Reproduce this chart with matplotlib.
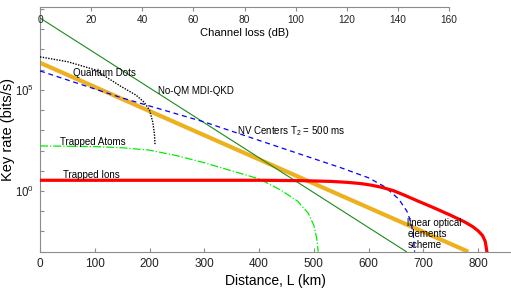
import matplotlib
matplotlib.use("Agg")
import matplotlib.pyplot as plt
import numpy as np

plt.rcParams['font.family'] = ['Liberation Sans', 'DejaVu Sans']
plt.rcParams['mathtext.fontset'] = 'custom'
plt.rcParams['mathtext.rm'] = 'Liberation Sans'
plt.rcParams['mathtext.it'] = 'Liberation Sans'
plt.rcParams['mathtext.default'] = 'regular'

# ---- data (distance in km, key rate in bits/s) ----
noqm_km = [0, 669]
noqm_rate = [3.6e8, 1e-3]

linear_km = [0, 782]
linear_rate = [2.2e6, 1e-3]

nv_km = [0, 150, 300, 450, 550, 600, 630, 655, 670, 678, 682, 684]
nv_rate = [8.7e5, 4.0e4, 2.6e3, 112, 14, 4.5, 1.6, 0.4, 0.1, 0.025, 0.005, 0.001]

qd_km = [0, 50, 100, 146, 175, 190, 200, 206, 209, 210]
qd_rate = [4.3e6, 2.5e6, 1.0e6, 1.6e5, 5.6e4, 2.5e4, 1.0e4, 2.5e3, 630, 200]

atoms_km = [0, 100, 150, 200, 250, 300, 350, 400, 440, 470, 490, 500, 505, 508]
atoms_rate = [170, 158, 138, 105, 56, 25, 10, 4.0, 1.1, 0.32, 0.079, 0.02, 0.005, 0.001]

ions_km = [0, 400, 480, 530, 560, 585, 605, 625, 645, 665, 690, 720, 750, 775, 790,
           800, 808, 813, 816]
ions_rate = [3.4, 3.4, 3.25, 3.0, 2.7, 2.35, 1.95, 1.5, 1.05, 0.63, 0.32, 0.145, 0.063,
             0.030, 0.0174, 0.0107, 0.0063, 0.0032, 0.001]

x_ticks = [0, 100, 200, 300, 400, 500, 600, 700, 800]
loss_ticks = [0, 20, 40, 60, 80, 100, 120, 140, 160]

W, H = 511, 294
fig = plt.figure(figsize=(W / 100, H / 100), dpi=100)
left = 40 / W
bottom = (H - 251.7) / H
top = (H - 7) / H
ax = fig.add_axes([left, bottom, 1 - left, top - bottom])

spine_c = '#8c8c8c'
ax.plot(linear_km, linear_rate, color='#EDB120', lw=3.0, zorder=2, solid_capstyle='butt')
ax.plot(noqm_km, noqm_rate, color='#1a8a1a', lw=0.8, zorder=3)
ax.plot(nv_km, nv_rate, color='#0000FF', lw=0.9, ls=(0, (4, 3)), zorder=3)
ax.plot(qd_km, qd_rate, color='black', lw=1.0, ls=(0, (1, 1)), zorder=3)
ax.plot(atoms_km, atoms_rate, color='#00EE00', lw=0.9, ls='-.', zorder=3)
ax.plot(ions_km, ions_rate, color='#FF0000', lw=2.3, zorder=4)

ax.set_yscale('log')
ax.set_xlim(0, 860)
ax.set_ylim(1e-3, 10 ** 9.1)
ax.set_xticks(x_ticks)
ax.set_xticklabels([str(v) for v in x_ticks])
ax.set_yticks([1e0, 1e5])
ax.set_yticklabels(['$10^0$', '$10^5$'])
ax.set_yticks([10.0 ** k for k in range(-3, 10) if k not in (0, 5)], minor=True)
ax.yaxis.set_minor_formatter(matplotlib.ticker.NullFormatter())
ax.tick_params(axis='both', which='both', direction='in', length=3, width=0.8,
               color=spine_c, labelcolor='#222222')
ax.tick_params(axis='x', labelsize=8.5, pad=4.5)
ax.tick_params(axis='y', labelsize=8.3, pad=4)
for s in ('top', 'right'):
    ax.spines[s].set_visible(False)
for s in ('left', 'bottom'):
    ax.spines[s].set_color(spine_c)
    ax.spines[s].set_linewidth(0.8)
ax.set_xlabel('Distance, L (km)', fontsize=10, labelpad=3)
ax.set_ylabel('Key rate (bits/s)', fontsize=10.5)
ax.yaxis.set_label_coords(-0.053, 0.5)
ax.patch.set_alpha(0)

# top channel-loss axis
ax2 = fig.add_axes([left, top - 0.0005, (449 - 40) / W, 0.0005])
ax2.set_xlim(0, 160)
ax2.set_xticks(loss_ticks)
ax2.set_xticklabels([str(v) for v in loss_ticks])
ax2.set_yticks([])
for s in ('top', 'left', 'right'):
    ax2.spines[s].set_visible(False)
ax2.spines['bottom'].set_color(spine_c)
ax2.spines['bottom'].set_linewidth(0.8)
ax2.tick_params(axis='x', direction='out', length=3, width=0.8, color=spine_c,
                labelsize=7.3, pad=3, labelcolor='#222222')
ax2.set_xlabel('Channel loss (dB)', fontsize=8, labelpad=2)
ax2.patch.set_alpha(0)

fs = 7
ax.text(60, 10 ** 5.85, 'Quantum Dots', fontsize=fs, ha='left', va='center', zorder=5)
ax.text(215, 10 ** 4.95, 'No-QM MDI-QKD', fontsize=fs, ha='left', va='center', zorder=5)
ax.text(360, 10 ** 2.95, 'NV Centers T$_2$ = 500 ms', fontsize=fs, ha='left', va='center', zorder=5)
ax.text(37, 10 ** 2.4, 'Trapped Atoms', fontsize=fs, ha='left', va='center', zorder=5)
ax.text(42, 10 ** 0.8, 'Trapped Ions', fontsize=fs, ha='left', va='center', zorder=5)
ax.text(671, 10 ** -2.13, 'linear optical\nelements\nscheme', fontsize=fs, ha='left',
        va='center', linespacing=1.15, zorder=5)

fig.savefig('out.png', dpi=100)
